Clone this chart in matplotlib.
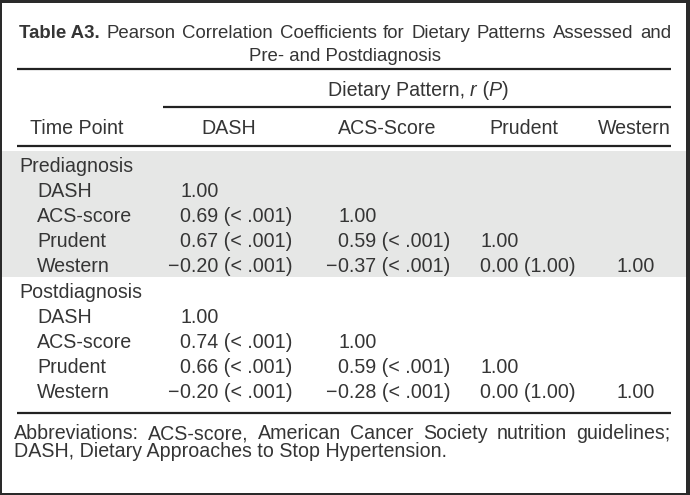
import matplotlib
matplotlib.use("Agg")
import matplotlib.pyplot as plt
from matplotlib.patches import Rectangle

# ---- table content ----
title_bold = "Table A3."
title_line1 = "Pearson Correlation Coefficients for Dietary Patterns Assessed and"
title_line2 = "Pre- and Postdiagnosis"
spanner = [("Dietary Pattern, ", "normal"), ("r", "italic"), (" (", "normal"),
           ("P", "italic"), (")", "normal")]
col_headers = ["Time Point", "DASH", "ACS-Score", "Prudent", "Western"]
time_points = ["Prediagnosis", "Postdiagnosis"]
row_labels = ["DASH", "ACS-score", "Prudent", "Western"]

# r values (lower triangle) and P values, None = diagonal
pre_r = [[1.00], [0.69, 1.00], [0.67, 0.59, 1.00], [-0.20, -0.37, 0.00, 1.00]]
pre_p = [[None], ["< .001", None], ["< .001", "< .001", None],
         ["< .001", "< .001", "1.00", None]]
post_r = [[1.00], [0.74, 1.00], [0.66, 0.59, 1.00], [-0.20, -0.28, 0.00, 1.00]]
post_p = [[None], ["< .001", None], ["< .001", "< .001", None],
          ["< .001", "< .001", "1.00", None]]
footnote1 = "Abbreviations: ACS-score, American Cancer Society nutrition guidelines;"
footnote2 = "DASH, Dietary Approaches to Stop Hypertension."

FONT = "Liberation Sans"
FS = 14.1
FS_TITLE = 13.4
TXT = "#353535"
RULE = "#222222"

fig = plt.figure(figsize=(6.9, 4.95), dpi=100)
fig.patch.set_facecolor("#2a2a2a")
ax = fig.add_axes([0, 0, 1, 1])
ax.set_xlim(0, 690)
ax.set_ylim(495, 0)
ax.axis("off")
renderer = fig.canvas.get_renderer()

ax.add_patch(Rectangle((2, 3), 684, 490, facecolor="white", edgecolor="none", zorder=0))
# shaded prediagnosis block
ax.add_patch(Rectangle((2, 151), 684, 126, facecolor="#e6e7e6", edgecolor="none", zorder=1))


def width_of(t):
    bb = t.get_window_extent(renderer=renderer)
    return bb.width


def put(x, y, s, ha="left", **kw):
    kw.setdefault("fontsize", FS)
    kw.setdefault("color", TXT)
    kw.setdefault("family", FONT)
    return ax.text(x, y, s, ha=ha, va="baseline", zorder=3, **kw)


def justify(words, x0, x1, y, weights=None, fs=FS):
    weights = weights or ["normal"] * len(words)
    ts = [put(0, y, w, fontweight=wt, fontsize=fs) for w, wt in zip(words, weights)]
    ws = [width_of(t) for t in ts]
    gap = (x1 - x0 - sum(ws)) / (len(ws) - 1)
    x = x0
    for t, w in zip(ts, ws):
        t.set_x(x)
        x += w + gap


def runs(parts, xc, y):
    ts = [put(0, y, s, fontstyle=st) for s, st in parts]
    ws = [width_of(t) for t in ts]
    x = xc - sum(ws) / 2
    for t, w in zip(ts, ws):
        t.set_x(x)
        x += w


# title
justify([title_bold] + title_line1.split(), 19, 671, 38,
        ["bold"] + ["normal"] * len(title_line1.split()), fs=FS_TITLE)
put(345, 61, title_line2, ha="center", fontsize=FS_TITLE)

# rules
for y, x0 in [(69, 17), (107, 163), (146, 17), (413, 17)]:
    ax.plot([x0, 671], [y, y], color=RULE, lw=1.6, solid_capstyle="butt", zorder=2)

runs(spanner, 418, 96)

head_x = [77, 229, 387, 524, 634]
for hx, h in zip(head_x, col_headers):
    put(hx, 134, h, ha="center")

# data columns: left edge of the digits
col_left = [180, 338, 480, 617]
row_base = 172
row_step = 25.1
r = 0
for tp, rv, pv in [(time_points[0], pre_r, pre_p), (time_points[1], post_r, post_p)]:
    put(19, row_base + r * row_step, tp)
    r += 1
    for lab, vals, ps in zip(row_labels, rv, pv):
        y = row_base + r * row_step
        put(37, y, lab)
        for j, (v, p) in enumerate(zip(vals, ps)):
            s = f"{abs(v):.2f}"
            if p is not None:
                s += f" ({p})"
            put(col_left[j], y, s)
            if v < 0:
                put(col_left[j] - 1.5, y, "\u2212", ha="right")
        r += 1

justify(footnote1.split(), 14, 670, 439)
put(14, 457, footnote2)

fig.savefig("out.png", dpi=100, facecolor=fig.get_facecolor())
